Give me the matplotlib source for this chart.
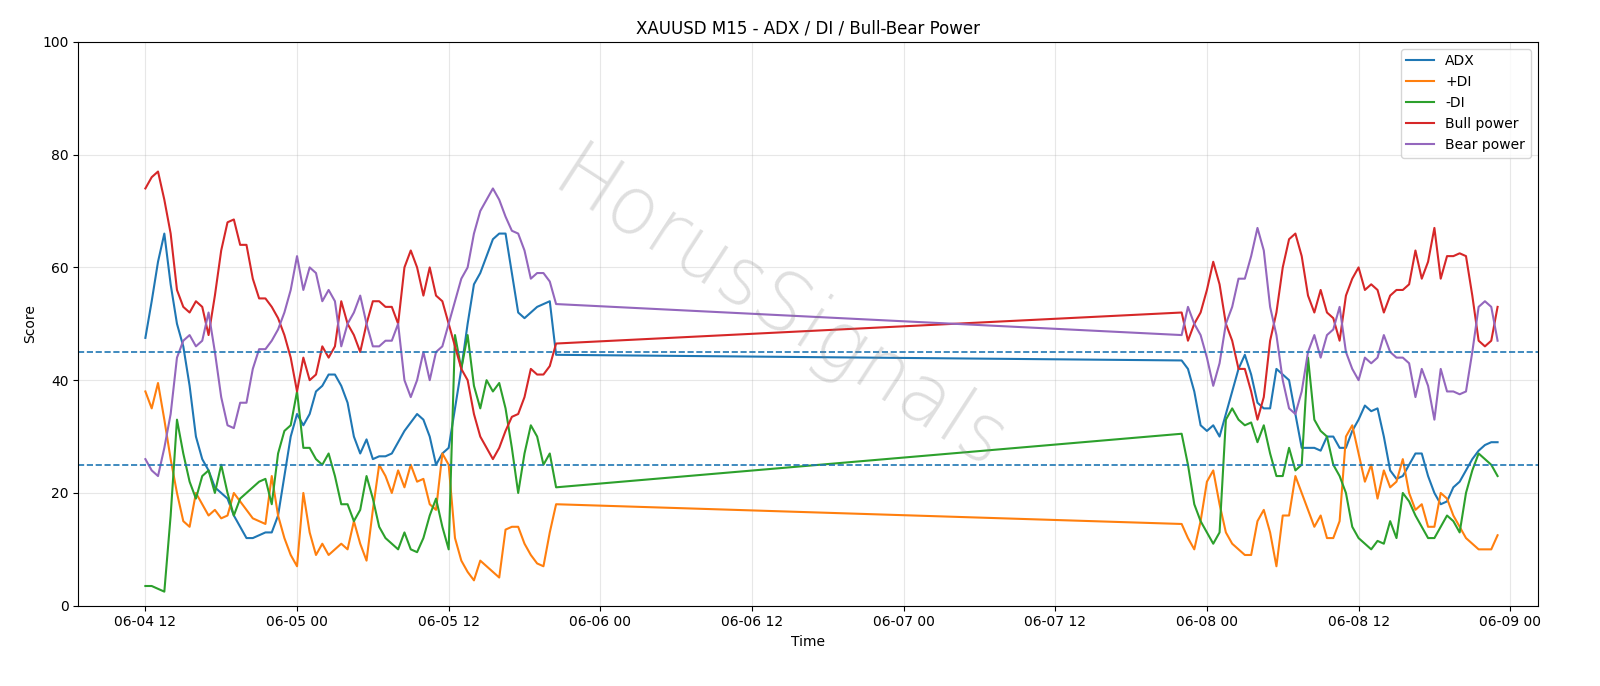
import matplotlib.pyplot as plt
import pandas as pd

# half-hourly readings, two trading blocks
t1 = pd.date_range("2021-06-04 12:00", periods=66, freq="30min")
t2 = pd.date_range("2021-06-07 22:00", periods=51, freq="30min")

adx1 = [47.5, 54, 61, 66, 57, 50, 46, 39, 30, 26, 24, 21, 20, 19, 16, 14, 12, 12, 12.5, 13,
        13, 16, 23, 30, 34, 32, 34, 38, 39, 41, 41, 39, 36, 30, 27, 29.5, 26, 26.5, 26.5, 27,
        29, 31, 32.5, 34, 33, 30, 25, 27, 28, 35, 42, 50, 57, 59, 62, 65, 66, 66, 59, 52,
        51, 52, 53, 53.5, 54, 44.5]
adx2 = [43.5, 42, 38, 32, 31, 32, 30, 34, 38, 42, 44.5, 41, 36, 35, 35, 42, 41, 40, 34, 28,
        28, 28, 27.5, 30, 30, 28, 28, 31, 33, 35.5, 34.5, 35, 30, 24, 22.5, 23, 25, 27, 27, 23,
        20, 18, 18.5, 21, 22, 24, 26, 27.5, 28.5, 29, 29]

pdi1 = [38, 35, 39.5, 33, 26, 20, 15, 14, 20, 18, 16, 17, 15.5, 16, 20, 18.5, 17, 15.5, 15, 14.5,
        23, 16, 12, 9, 7, 20, 13, 9, 11, 9, 10, 11, 10, 15, 11, 8, 17, 25, 23, 20,
        24, 21, 25, 22, 22.5, 18, 17, 27, 25, 12, 8, 6, 4.5, 8, 7, 6, 5, 13.5, 14, 14,
        11, 9, 7.5, 7, 13, 18]
pdi2 = [14.5, 12, 10, 15, 22, 24, 18, 13, 11, 10, 9, 9, 15, 17, 13, 7, 16, 16, 23, 20,
        17, 14, 16, 12, 12, 15, 30, 32, 27, 22, 25, 19, 24, 21, 22, 26, 20, 17, 18, 14,
        14, 20, 19, 16, 14, 12, 11, 10, 10, 10, 12.5]

mdi1 = [3.5, 3.5, 3, 2.5, 16, 33, 27, 22, 19, 23, 24, 20, 25, 20, 16, 19, 20, 21, 22, 22.5,
        18, 27, 31, 32, 38, 28, 28, 26, 25, 27, 23, 18, 18, 15, 17, 23, 19, 14, 12, 11,
        10, 13, 10, 9.5, 12, 16, 19, 14, 10, 48, 42, 48, 39, 35, 40, 38, 39.5, 35, 28, 20,
        27, 32, 30, 25, 27, 21]
mdi2 = [30.5, 25, 18, 15, 13, 11, 13, 33, 35, 33, 32, 32.5, 29, 32, 27, 23, 23, 28, 24, 25,
        44, 33, 31, 30, 25, 23, 20, 14, 12, 11, 10, 11.5, 11, 15, 12, 20, 18.5, 16, 14, 12,
        12, 14, 16, 15, 13, 20, 24, 27, 26, 25, 23]

bull1 = [74, 76, 77, 72, 66, 56, 53, 52, 54, 53, 48, 55, 63, 68, 68.5, 64, 64, 58, 54.5, 54.5,
         53, 51, 48, 44, 38, 44, 40, 41, 46, 44, 46, 54, 50, 48, 45, 50, 54, 54, 53, 53,
         50, 60, 63, 60, 55, 60, 55, 54, 50, 46, 42, 40, 34, 30, 28, 26, 28, 31, 33.5, 34,
         37, 42, 41, 41, 42.5, 46.5]
bull2 = [52, 47, 50, 52, 56, 61, 57, 50, 47, 42, 42, 38, 33, 37, 47, 52, 60, 65, 66, 62,
         55, 52, 56, 52, 51, 47, 55, 58, 60, 56, 57, 56, 52, 55, 56, 56, 57, 63, 58, 61,
         67, 58, 62, 62, 62.5, 62, 55, 47, 46, 47, 53]

bear1 = [26, 24, 23, 28, 34, 44, 47, 48, 46, 47, 52, 45, 37, 32, 31.5, 36, 36, 42, 45.5, 45.5,
         47, 49, 52, 56, 62, 56, 60, 59, 54, 56, 54, 46, 50, 52, 55, 50, 46, 46, 47, 47,
         50, 40, 37, 40, 45, 40, 45, 46, 50, 54, 58, 60, 66, 70, 72, 74, 72, 69, 66.5, 66,
         63, 58, 59, 59, 57.5, 53.5]
bear2 = [48, 53, 50, 48, 44, 39, 43, 50, 53, 58, 58, 62, 67, 63, 53, 48, 40, 35, 34, 38,
         45, 48, 44, 48, 49, 53, 45, 42, 40, 44, 43, 44, 48, 45, 44, 44, 43, 37, 42, 39,
         33, 42, 38, 38, 37.5, 38, 45, 53, 54, 53, 47]

times = t1.append(t2)

fig, ax = plt.subplots(figsize=(16, 6.86), dpi=100)
fig.subplots_adjust(left=0.049, right=0.961, top=0.939, bottom=0.117)
ax.plot(times, adx1 + adx2, color="tab:blue", label="ADX")
ax.plot(times, pdi1 + pdi2, color="tab:orange", label="+DI")
ax.plot(times, mdi1 + mdi2, color="tab:green", label="-DI")
ax.plot(times, bull1 + bull2, color="tab:red", label="Bull power")
ax.plot(times, bear1 + bear2, color="tab:purple", label="Bear power")
ax.axhline(45, color="tab:blue", linestyle="--", linewidth=1.2)
ax.axhline(25, color="tab:blue", linestyle="--", linewidth=1.2)

ax.set_ylim(0, 100)
ax.set_xlim(pd.Timestamp("2021-06-04 06:42"), pd.Timestamp("2021-06-09 02:10"))
ax.grid(True, alpha=0.3)
ax.set_title("XAUUSD M15 - ADX / DI / Bull-Bear Power")
ax.set_xlabel("Time")
ax.set_ylabel("Score")
ax.xaxis.set_major_formatter(plt.matplotlib.dates.DateFormatter("%m-%d %H"))
ax.legend(loc="upper right")

ax.text(0.48, 0.52, "HorusSignals", transform=ax.transAxes, fontsize=58,
        color="gray", alpha=0.25, rotation=-33, ha="center", va="center",
        fontweight="light")

plt.savefig("out.png")
